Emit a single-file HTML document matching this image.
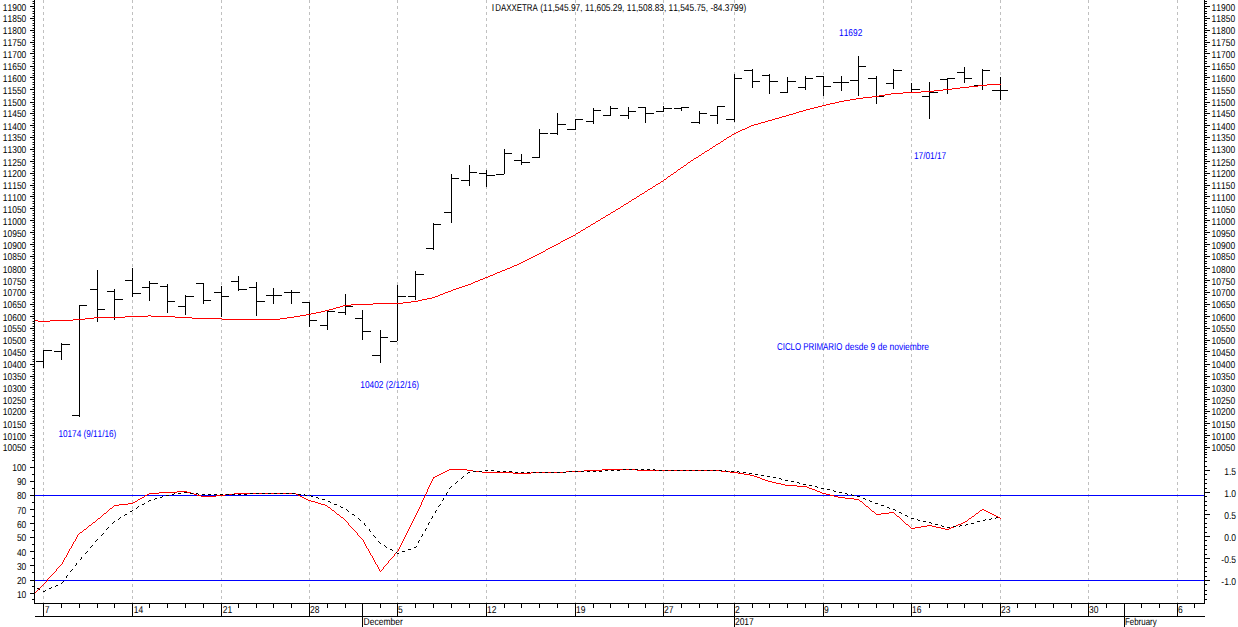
<!DOCTYPE html>
<html><head><meta charset="utf-8"><title>DAX chart</title>
<style>
html,body{margin:0;padding:0;background:#fff;}
body{width:1238px;height:627px;overflow:hidden;}
svg{display:block;}
text{text-rendering:geometricPrecision;font-kerning:none;font-family:"Liberation Sans",sans-serif;font-size:10px;}
</style></head><body>
<svg width="1238" height="627" viewBox="0 0 1238 627">
<rect x="0" y="0" width="1238" height="627" fill="#ffffff"/>
<g shape-rendering="crispEdges" stroke="#c0c0c0" stroke-width="1" stroke-dasharray="3,3">
<line x1="43.5" y1="0" x2="43.5" y2="458"/><line x1="43.5" y1="458" x2="43.5" y2="603"/>
<line x1="132.5" y1="0" x2="132.5" y2="458"/><line x1="132.5" y1="458" x2="132.5" y2="603"/>
<line x1="221.5" y1="0" x2="221.5" y2="458"/><line x1="221.5" y1="458" x2="221.5" y2="603"/>
<line x1="309.5" y1="0" x2="309.5" y2="458"/><line x1="309.5" y1="458" x2="309.5" y2="603"/>
<line x1="397.5" y1="0" x2="397.5" y2="458"/><line x1="397.5" y1="458" x2="397.5" y2="603"/>
<line x1="486.5" y1="0" x2="486.5" y2="458"/><line x1="486.5" y1="458" x2="486.5" y2="603"/>
<line x1="575.5" y1="0" x2="575.5" y2="458"/><line x1="575.5" y1="458" x2="575.5" y2="603"/>
<line x1="663.5" y1="0" x2="663.5" y2="458"/><line x1="663.5" y1="458" x2="663.5" y2="603"/>
<line x1="734.5" y1="0" x2="734.5" y2="458"/><line x1="734.5" y1="458" x2="734.5" y2="603"/>
<line x1="823.5" y1="0" x2="823.5" y2="458"/><line x1="823.5" y1="458" x2="823.5" y2="603"/>
<line x1="911.5" y1="0" x2="911.5" y2="458"/><line x1="911.5" y1="458" x2="911.5" y2="603"/>
<line x1="1000.5" y1="0" x2="1000.5" y2="458"/><line x1="1000.5" y1="458" x2="1000.5" y2="603"/>
<line x1="1088.5" y1="0" x2="1088.5" y2="458"/><line x1="1088.5" y1="458" x2="1088.5" y2="603"/>
<line x1="1177.5" y1="0" x2="1177.5" y2="458"/><line x1="1177.5" y1="458" x2="1177.5" y2="603"/>
</g>
<g shape-rendering="crispEdges" fill="#000">
<rect x="34" y="0" width="1" height="604"/>
<rect x="1204" y="0" width="1" height="604"/>
<rect x="34" y="603" width="1171" height="1"/>
<rect x="35" y="616" width="1170" height="1"/>
<rect x="33" y="1" width="1" height="1"/>
<rect x="1205" y="1" width="2" height="1"/>
<rect x="33" y="3" width="1" height="1"/>
<rect x="1205" y="3" width="2" height="1"/>
<rect x="30" y="6" width="4" height="1"/>
<rect x="1205" y="6" width="5" height="1"/>
<rect x="33" y="8" width="1" height="1"/>
<rect x="1205" y="8" width="2" height="1"/>
<rect x="33" y="11" width="1" height="1"/>
<rect x="1205" y="11" width="2" height="1"/>
<rect x="33" y="13" width="1" height="1"/>
<rect x="1205" y="13" width="2" height="1"/>
<rect x="33" y="16" width="1" height="1"/>
<rect x="1205" y="16" width="2" height="1"/>
<rect x="30" y="18" width="4" height="1"/>
<rect x="1205" y="18" width="5" height="1"/>
<rect x="33" y="20" width="1" height="1"/>
<rect x="1205" y="20" width="2" height="1"/>
<rect x="33" y="23" width="1" height="1"/>
<rect x="1205" y="23" width="2" height="1"/>
<rect x="33" y="25" width="1" height="1"/>
<rect x="1205" y="25" width="2" height="1"/>
<rect x="33" y="28" width="1" height="1"/>
<rect x="1205" y="28" width="2" height="1"/>
<rect x="30" y="30" width="4" height="1"/>
<rect x="1205" y="30" width="5" height="1"/>
<rect x="33" y="32" width="1" height="1"/>
<rect x="1205" y="32" width="2" height="1"/>
<rect x="33" y="35" width="1" height="1"/>
<rect x="1205" y="35" width="2" height="1"/>
<rect x="33" y="37" width="1" height="1"/>
<rect x="1205" y="37" width="2" height="1"/>
<rect x="33" y="40" width="1" height="1"/>
<rect x="1205" y="40" width="2" height="1"/>
<rect x="30" y="42" width="4" height="1"/>
<rect x="1205" y="42" width="5" height="1"/>
<rect x="33" y="44" width="1" height="1"/>
<rect x="1205" y="44" width="2" height="1"/>
<rect x="33" y="46" width="1" height="1"/>
<rect x="1205" y="46" width="2" height="1"/>
<rect x="33" y="49" width="1" height="1"/>
<rect x="1205" y="49" width="2" height="1"/>
<rect x="33" y="51" width="1" height="1"/>
<rect x="1205" y="51" width="2" height="1"/>
<rect x="30" y="53" width="4" height="1"/>
<rect x="1205" y="53" width="5" height="1"/>
<rect x="33" y="56" width="1" height="1"/>
<rect x="1205" y="56" width="2" height="1"/>
<rect x="33" y="58" width="1" height="1"/>
<rect x="1205" y="58" width="2" height="1"/>
<rect x="33" y="61" width="1" height="1"/>
<rect x="1205" y="61" width="2" height="1"/>
<rect x="33" y="63" width="1" height="1"/>
<rect x="1205" y="63" width="2" height="1"/>
<rect x="30" y="66" width="4" height="1"/>
<rect x="1205" y="66" width="5" height="1"/>
<rect x="33" y="68" width="1" height="1"/>
<rect x="1205" y="68" width="2" height="1"/>
<rect x="33" y="70" width="1" height="1"/>
<rect x="1205" y="70" width="2" height="1"/>
<rect x="33" y="73" width="1" height="1"/>
<rect x="1205" y="73" width="2" height="1"/>
<rect x="33" y="75" width="1" height="1"/>
<rect x="1205" y="75" width="2" height="1"/>
<rect x="30" y="77" width="4" height="1"/>
<rect x="1205" y="77" width="5" height="1"/>
<rect x="33" y="79" width="1" height="1"/>
<rect x="1205" y="79" width="2" height="1"/>
<rect x="33" y="82" width="1" height="1"/>
<rect x="1205" y="82" width="2" height="1"/>
<rect x="33" y="84" width="1" height="1"/>
<rect x="1205" y="84" width="2" height="1"/>
<rect x="33" y="87" width="1" height="1"/>
<rect x="1205" y="87" width="2" height="1"/>
<rect x="30" y="89" width="4" height="1"/>
<rect x="1205" y="89" width="5" height="1"/>
<rect x="33" y="92" width="1" height="1"/>
<rect x="1205" y="92" width="2" height="1"/>
<rect x="33" y="94" width="1" height="1"/>
<rect x="1205" y="94" width="2" height="1"/>
<rect x="33" y="97" width="1" height="1"/>
<rect x="1205" y="97" width="2" height="1"/>
<rect x="33" y="99" width="1" height="1"/>
<rect x="1205" y="99" width="2" height="1"/>
<rect x="30" y="102" width="4" height="1"/>
<rect x="1205" y="102" width="5" height="1"/>
<rect x="33" y="104" width="1" height="1"/>
<rect x="1205" y="104" width="2" height="1"/>
<rect x="33" y="106" width="1" height="1"/>
<rect x="1205" y="106" width="2" height="1"/>
<rect x="33" y="109" width="1" height="1"/>
<rect x="1205" y="109" width="2" height="1"/>
<rect x="33" y="111" width="1" height="1"/>
<rect x="1205" y="111" width="2" height="1"/>
<rect x="30" y="113" width="4" height="1"/>
<rect x="1205" y="113" width="5" height="1"/>
<rect x="33" y="115" width="1" height="1"/>
<rect x="1205" y="115" width="2" height="1"/>
<rect x="33" y="118" width="1" height="1"/>
<rect x="1205" y="118" width="2" height="1"/>
<rect x="33" y="120" width="1" height="1"/>
<rect x="1205" y="120" width="2" height="1"/>
<rect x="33" y="123" width="1" height="1"/>
<rect x="1205" y="123" width="2" height="1"/>
<rect x="30" y="125" width="4" height="1"/>
<rect x="1205" y="125" width="5" height="1"/>
<rect x="33" y="127" width="1" height="1"/>
<rect x="1205" y="127" width="2" height="1"/>
<rect x="33" y="130" width="1" height="1"/>
<rect x="1205" y="130" width="2" height="1"/>
<rect x="33" y="132" width="1" height="1"/>
<rect x="1205" y="132" width="2" height="1"/>
<rect x="33" y="135" width="1" height="1"/>
<rect x="1205" y="135" width="2" height="1"/>
<rect x="30" y="137" width="4" height="1"/>
<rect x="1205" y="137" width="5" height="1"/>
<rect x="33" y="139" width="1" height="1"/>
<rect x="1205" y="139" width="2" height="1"/>
<rect x="33" y="142" width="1" height="1"/>
<rect x="1205" y="142" width="2" height="1"/>
<rect x="33" y="144" width="1" height="1"/>
<rect x="1205" y="144" width="2" height="1"/>
<rect x="33" y="147" width="1" height="1"/>
<rect x="1205" y="147" width="2" height="1"/>
<rect x="30" y="149" width="4" height="1"/>
<rect x="1205" y="149" width="5" height="1"/>
<rect x="33" y="151" width="1" height="1"/>
<rect x="1205" y="151" width="2" height="1"/>
<rect x="33" y="154" width="1" height="1"/>
<rect x="1205" y="154" width="2" height="1"/>
<rect x="33" y="156" width="1" height="1"/>
<rect x="1205" y="156" width="2" height="1"/>
<rect x="33" y="159" width="1" height="1"/>
<rect x="1205" y="159" width="2" height="1"/>
<rect x="30" y="161" width="4" height="1"/>
<rect x="1205" y="161" width="5" height="1"/>
<rect x="33" y="163" width="1" height="1"/>
<rect x="1205" y="163" width="2" height="1"/>
<rect x="33" y="166" width="1" height="1"/>
<rect x="1205" y="166" width="2" height="1"/>
<rect x="33" y="168" width="1" height="1"/>
<rect x="1205" y="168" width="2" height="1"/>
<rect x="33" y="171" width="1" height="1"/>
<rect x="1205" y="171" width="2" height="1"/>
<rect x="30" y="173" width="4" height="1"/>
<rect x="1205" y="173" width="5" height="1"/>
<rect x="33" y="175" width="1" height="1"/>
<rect x="1205" y="175" width="2" height="1"/>
<rect x="33" y="178" width="1" height="1"/>
<rect x="1205" y="178" width="2" height="1"/>
<rect x="33" y="180" width="1" height="1"/>
<rect x="1205" y="180" width="2" height="1"/>
<rect x="33" y="183" width="1" height="1"/>
<rect x="1205" y="183" width="2" height="1"/>
<rect x="30" y="185" width="4" height="1"/>
<rect x="1205" y="185" width="5" height="1"/>
<rect x="33" y="187" width="1" height="1"/>
<rect x="1205" y="187" width="2" height="1"/>
<rect x="33" y="189" width="1" height="1"/>
<rect x="1205" y="189" width="2" height="1"/>
<rect x="33" y="192" width="1" height="1"/>
<rect x="1205" y="192" width="2" height="1"/>
<rect x="33" y="194" width="1" height="1"/>
<rect x="1205" y="194" width="2" height="1"/>
<rect x="30" y="196" width="4" height="1"/>
<rect x="1205" y="196" width="5" height="1"/>
<rect x="33" y="198" width="1" height="1"/>
<rect x="1205" y="198" width="2" height="1"/>
<rect x="33" y="201" width="1" height="1"/>
<rect x="1205" y="201" width="2" height="1"/>
<rect x="33" y="203" width="1" height="1"/>
<rect x="1205" y="203" width="2" height="1"/>
<rect x="33" y="206" width="1" height="1"/>
<rect x="1205" y="206" width="2" height="1"/>
<rect x="30" y="208" width="4" height="1"/>
<rect x="1205" y="208" width="5" height="1"/>
<rect x="33" y="210" width="1" height="1"/>
<rect x="1205" y="210" width="2" height="1"/>
<rect x="33" y="213" width="1" height="1"/>
<rect x="1205" y="213" width="2" height="1"/>
<rect x="33" y="215" width="1" height="1"/>
<rect x="1205" y="215" width="2" height="1"/>
<rect x="33" y="218" width="1" height="1"/>
<rect x="1205" y="218" width="2" height="1"/>
<rect x="30" y="220" width="4" height="1"/>
<rect x="1205" y="220" width="5" height="1"/>
<rect x="33" y="222" width="1" height="1"/>
<rect x="1205" y="222" width="2" height="1"/>
<rect x="33" y="225" width="1" height="1"/>
<rect x="1205" y="225" width="2" height="1"/>
<rect x="33" y="227" width="1" height="1"/>
<rect x="1205" y="227" width="2" height="1"/>
<rect x="33" y="230" width="1" height="1"/>
<rect x="1205" y="230" width="2" height="1"/>
<rect x="30" y="232" width="4" height="1"/>
<rect x="1205" y="232" width="5" height="1"/>
<rect x="33" y="234" width="1" height="1"/>
<rect x="1205" y="234" width="2" height="1"/>
<rect x="33" y="237" width="1" height="1"/>
<rect x="1205" y="237" width="2" height="1"/>
<rect x="33" y="239" width="1" height="1"/>
<rect x="1205" y="239" width="2" height="1"/>
<rect x="33" y="242" width="1" height="1"/>
<rect x="1205" y="242" width="2" height="1"/>
<rect x="30" y="244" width="4" height="1"/>
<rect x="1205" y="244" width="5" height="1"/>
<rect x="33" y="246" width="1" height="1"/>
<rect x="1205" y="246" width="2" height="1"/>
<rect x="33" y="249" width="1" height="1"/>
<rect x="1205" y="249" width="2" height="1"/>
<rect x="33" y="251" width="1" height="1"/>
<rect x="1205" y="251" width="2" height="1"/>
<rect x="33" y="254" width="1" height="1"/>
<rect x="1205" y="254" width="2" height="1"/>
<rect x="30" y="256" width="4" height="1"/>
<rect x="1205" y="256" width="5" height="1"/>
<rect x="33" y="258" width="1" height="1"/>
<rect x="1205" y="258" width="2" height="1"/>
<rect x="33" y="261" width="1" height="1"/>
<rect x="1205" y="261" width="2" height="1"/>
<rect x="33" y="263" width="1" height="1"/>
<rect x="1205" y="263" width="2" height="1"/>
<rect x="33" y="266" width="1" height="1"/>
<rect x="1205" y="266" width="2" height="1"/>
<rect x="30" y="268" width="4" height="1"/>
<rect x="1205" y="268" width="5" height="1"/>
<rect x="33" y="270" width="1" height="1"/>
<rect x="1205" y="270" width="2" height="1"/>
<rect x="33" y="273" width="1" height="1"/>
<rect x="1205" y="273" width="2" height="1"/>
<rect x="33" y="275" width="1" height="1"/>
<rect x="1205" y="275" width="2" height="1"/>
<rect x="33" y="278" width="1" height="1"/>
<rect x="1205" y="278" width="2" height="1"/>
<rect x="30" y="280" width="4" height="1"/>
<rect x="1205" y="280" width="5" height="1"/>
<rect x="33" y="282" width="1" height="1"/>
<rect x="1205" y="282" width="2" height="1"/>
<rect x="33" y="285" width="1" height="1"/>
<rect x="1205" y="285" width="2" height="1"/>
<rect x="33" y="287" width="1" height="1"/>
<rect x="1205" y="287" width="2" height="1"/>
<rect x="33" y="290" width="1" height="1"/>
<rect x="1205" y="290" width="2" height="1"/>
<rect x="30" y="292" width="4" height="1"/>
<rect x="1205" y="292" width="5" height="1"/>
<rect x="33" y="294" width="1" height="1"/>
<rect x="1205" y="294" width="2" height="1"/>
<rect x="33" y="297" width="1" height="1"/>
<rect x="1205" y="297" width="2" height="1"/>
<rect x="33" y="299" width="1" height="1"/>
<rect x="1205" y="299" width="2" height="1"/>
<rect x="33" y="302" width="1" height="1"/>
<rect x="1205" y="302" width="2" height="1"/>
<rect x="30" y="304" width="4" height="1"/>
<rect x="1205" y="304" width="5" height="1"/>
<rect x="33" y="306" width="1" height="1"/>
<rect x="1205" y="306" width="2" height="1"/>
<rect x="33" y="309" width="1" height="1"/>
<rect x="1205" y="309" width="2" height="1"/>
<rect x="33" y="311" width="1" height="1"/>
<rect x="1205" y="311" width="2" height="1"/>
<rect x="33" y="314" width="1" height="1"/>
<rect x="1205" y="314" width="2" height="1"/>
<rect x="30" y="316" width="4" height="1"/>
<rect x="1205" y="316" width="5" height="1"/>
<rect x="33" y="318" width="1" height="1"/>
<rect x="1205" y="318" width="2" height="1"/>
<rect x="33" y="321" width="1" height="1"/>
<rect x="1205" y="321" width="2" height="1"/>
<rect x="33" y="323" width="1" height="1"/>
<rect x="1205" y="323" width="2" height="1"/>
<rect x="33" y="326" width="1" height="1"/>
<rect x="1205" y="326" width="2" height="1"/>
<rect x="30" y="328" width="4" height="1"/>
<rect x="1205" y="328" width="5" height="1"/>
<rect x="33" y="330" width="1" height="1"/>
<rect x="1205" y="330" width="2" height="1"/>
<rect x="33" y="333" width="1" height="1"/>
<rect x="1205" y="333" width="2" height="1"/>
<rect x="33" y="335" width="1" height="1"/>
<rect x="1205" y="335" width="2" height="1"/>
<rect x="33" y="338" width="1" height="1"/>
<rect x="1205" y="338" width="2" height="1"/>
<rect x="30" y="340" width="4" height="1"/>
<rect x="1205" y="340" width="5" height="1"/>
<rect x="33" y="342" width="1" height="1"/>
<rect x="1205" y="342" width="2" height="1"/>
<rect x="33" y="344" width="1" height="1"/>
<rect x="1205" y="344" width="2" height="1"/>
<rect x="33" y="347" width="1" height="1"/>
<rect x="1205" y="347" width="2" height="1"/>
<rect x="33" y="349" width="1" height="1"/>
<rect x="1205" y="349" width="2" height="1"/>
<rect x="30" y="351" width="4" height="1"/>
<rect x="1205" y="351" width="5" height="1"/>
<rect x="33" y="354" width="1" height="1"/>
<rect x="1205" y="354" width="2" height="1"/>
<rect x="33" y="356" width="1" height="1"/>
<rect x="1205" y="356" width="2" height="1"/>
<rect x="33" y="359" width="1" height="1"/>
<rect x="1205" y="359" width="2" height="1"/>
<rect x="33" y="361" width="1" height="1"/>
<rect x="1205" y="361" width="2" height="1"/>
<rect x="30" y="364" width="4" height="1"/>
<rect x="1205" y="364" width="5" height="1"/>
<rect x="33" y="366" width="1" height="1"/>
<rect x="1205" y="366" width="2" height="1"/>
<rect x="33" y="369" width="1" height="1"/>
<rect x="1205" y="369" width="2" height="1"/>
<rect x="33" y="371" width="1" height="1"/>
<rect x="1205" y="371" width="2" height="1"/>
<rect x="33" y="374" width="1" height="1"/>
<rect x="1205" y="374" width="2" height="1"/>
<rect x="30" y="376" width="4" height="1"/>
<rect x="1205" y="376" width="5" height="1"/>
<rect x="33" y="378" width="1" height="1"/>
<rect x="1205" y="378" width="2" height="1"/>
<rect x="33" y="380" width="1" height="1"/>
<rect x="1205" y="380" width="2" height="1"/>
<rect x="33" y="383" width="1" height="1"/>
<rect x="1205" y="383" width="2" height="1"/>
<rect x="33" y="385" width="1" height="1"/>
<rect x="1205" y="385" width="2" height="1"/>
<rect x="30" y="387" width="4" height="1"/>
<rect x="1205" y="387" width="5" height="1"/>
<rect x="33" y="389" width="1" height="1"/>
<rect x="1205" y="389" width="2" height="1"/>
<rect x="33" y="392" width="1" height="1"/>
<rect x="1205" y="392" width="2" height="1"/>
<rect x="33" y="394" width="1" height="1"/>
<rect x="1205" y="394" width="2" height="1"/>
<rect x="33" y="397" width="1" height="1"/>
<rect x="1205" y="397" width="2" height="1"/>
<rect x="30" y="399" width="4" height="1"/>
<rect x="1205" y="399" width="5" height="1"/>
<rect x="33" y="401" width="1" height="1"/>
<rect x="1205" y="401" width="2" height="1"/>
<rect x="33" y="404" width="1" height="1"/>
<rect x="1205" y="404" width="2" height="1"/>
<rect x="33" y="406" width="1" height="1"/>
<rect x="1205" y="406" width="2" height="1"/>
<rect x="33" y="409" width="1" height="1"/>
<rect x="1205" y="409" width="2" height="1"/>
<rect x="30" y="411" width="4" height="1"/>
<rect x="1205" y="411" width="5" height="1"/>
<rect x="33" y="413" width="1" height="1"/>
<rect x="1205" y="413" width="2" height="1"/>
<rect x="33" y="416" width="1" height="1"/>
<rect x="1205" y="416" width="2" height="1"/>
<rect x="33" y="418" width="1" height="1"/>
<rect x="1205" y="418" width="2" height="1"/>
<rect x="33" y="421" width="1" height="1"/>
<rect x="1205" y="421" width="2" height="1"/>
<rect x="30" y="423" width="4" height="1"/>
<rect x="1205" y="423" width="5" height="1"/>
<rect x="33" y="425" width="1" height="1"/>
<rect x="1205" y="425" width="2" height="1"/>
<rect x="33" y="428" width="1" height="1"/>
<rect x="1205" y="428" width="2" height="1"/>
<rect x="33" y="430" width="1" height="1"/>
<rect x="1205" y="430" width="2" height="1"/>
<rect x="33" y="433" width="1" height="1"/>
<rect x="1205" y="433" width="2" height="1"/>
<rect x="30" y="435" width="4" height="1"/>
<rect x="1205" y="435" width="5" height="1"/>
<rect x="33" y="437" width="1" height="1"/>
<rect x="1205" y="437" width="2" height="1"/>
<rect x="33" y="440" width="1" height="1"/>
<rect x="1205" y="440" width="2" height="1"/>
<rect x="33" y="442" width="1" height="1"/>
<rect x="1205" y="442" width="2" height="1"/>
<rect x="33" y="445" width="1" height="1"/>
<rect x="1205" y="445" width="2" height="1"/>
<rect x="30" y="447" width="4" height="1"/>
<rect x="1205" y="447" width="5" height="1"/>
<rect x="33" y="449" width="1" height="1"/>
<rect x="1205" y="449" width="2" height="1"/>
<rect x="33" y="452" width="1" height="1"/>
<rect x="1205" y="452" width="2" height="1"/>
<rect x="33" y="454" width="1" height="1"/>
<rect x="1205" y="454" width="2" height="1"/>
<rect x="33" y="457" width="1" height="1"/>
<rect x="1205" y="457" width="2" height="1"/>
<rect x="30" y="467" width="4" height="1"/>
<rect x="30" y="481" width="4" height="1"/>
<rect x="30" y="495" width="4" height="1"/>
<rect x="30" y="509" width="4" height="1"/>
<rect x="30" y="523" width="4" height="1"/>
<rect x="30" y="537" width="4" height="1"/>
<rect x="30" y="551" width="4" height="1"/>
<rect x="30" y="565" width="4" height="1"/>
<rect x="30" y="580" width="4" height="1"/>
<rect x="30" y="593" width="4" height="1"/>
<rect x="32" y="460" width="2" height="1"/>
<rect x="32" y="474" width="2" height="1"/>
<rect x="32" y="488" width="2" height="1"/>
<rect x="32" y="502" width="2" height="1"/>
<rect x="32" y="516" width="2" height="1"/>
<rect x="32" y="530" width="2" height="1"/>
<rect x="32" y="544" width="2" height="1"/>
<rect x="32" y="558" width="2" height="1"/>
<rect x="32" y="572" width="2" height="1"/>
<rect x="32" y="586" width="2" height="1"/>
<rect x="32" y="599" width="2" height="1"/>
<rect x="1205" y="461" width="2" height="1"/>
<rect x="1205" y="466" width="2" height="1"/>
<rect x="1205" y="470" width="5" height="1"/>
<rect x="1205" y="474" width="2" height="1"/>
<rect x="1205" y="479" width="2" height="1"/>
<rect x="1205" y="483" width="2" height="1"/>
<rect x="1205" y="488" width="2" height="1"/>
<rect x="1205" y="492" width="5" height="1"/>
<rect x="1205" y="496" width="2" height="1"/>
<rect x="1205" y="501" width="2" height="1"/>
<rect x="1205" y="505" width="2" height="1"/>
<rect x="1205" y="510" width="2" height="1"/>
<rect x="1205" y="514" width="5" height="1"/>
<rect x="1205" y="518" width="2" height="1"/>
<rect x="1205" y="523" width="2" height="1"/>
<rect x="1205" y="527" width="2" height="1"/>
<rect x="1205" y="532" width="2" height="1"/>
<rect x="1205" y="536" width="5" height="1"/>
<rect x="1205" y="540" width="2" height="1"/>
<rect x="1205" y="545" width="2" height="1"/>
<rect x="1205" y="549" width="2" height="1"/>
<rect x="1205" y="554" width="2" height="1"/>
<rect x="1205" y="558" width="5" height="1"/>
<rect x="1205" y="562" width="2" height="1"/>
<rect x="1205" y="567" width="2" height="1"/>
<rect x="1205" y="571" width="2" height="1"/>
<rect x="1205" y="576" width="2" height="1"/>
<rect x="1205" y="580" width="5" height="1"/>
<rect x="1205" y="584" width="2" height="1"/>
<rect x="1205" y="590" width="2" height="1"/>
<rect x="1205" y="594" width="2" height="1"/>
<rect x="1205" y="599" width="2" height="1"/>
<rect x="43" y="603" width="1" height="14"/>
<rect x="61" y="603" width="1" height="5"/>
<rect x="79" y="603" width="1" height="5"/>
<rect x="97" y="603" width="1" height="5"/>
<rect x="114" y="603" width="1" height="5"/>
<rect x="132" y="603" width="1" height="14"/>
<rect x="149" y="603" width="1" height="5"/>
<rect x="167" y="603" width="1" height="5"/>
<rect x="185" y="603" width="1" height="5"/>
<rect x="203" y="603" width="1" height="5"/>
<rect x="221" y="603" width="1" height="14"/>
<rect x="238" y="603" width="1" height="5"/>
<rect x="256" y="603" width="1" height="5"/>
<rect x="273" y="603" width="1" height="5"/>
<rect x="291" y="603" width="1" height="5"/>
<rect x="309" y="603" width="1" height="14"/>
<rect x="327" y="603" width="1" height="5"/>
<rect x="345" y="603" width="1" height="5"/>
<rect x="362" y="603" width="1" height="24"/>
<rect x="380" y="603" width="1" height="5"/>
<rect x="397" y="603" width="1" height="14"/>
<rect x="415" y="603" width="1" height="5"/>
<rect x="433" y="603" width="1" height="5"/>
<rect x="451" y="603" width="1" height="5"/>
<rect x="469" y="603" width="1" height="5"/>
<rect x="486" y="603" width="1" height="14"/>
<rect x="504" y="603" width="1" height="5"/>
<rect x="521" y="603" width="1" height="5"/>
<rect x="539" y="603" width="1" height="5"/>
<rect x="557" y="603" width="1" height="5"/>
<rect x="575" y="603" width="1" height="14"/>
<rect x="593" y="603" width="1" height="5"/>
<rect x="610" y="603" width="1" height="5"/>
<rect x="628" y="603" width="1" height="5"/>
<rect x="645" y="603" width="1" height="5"/>
<rect x="663" y="603" width="1" height="14"/>
<rect x="681" y="603" width="1" height="5"/>
<rect x="699" y="603" width="1" height="5"/>
<rect x="717" y="603" width="1" height="5"/>
<rect x="734" y="603" width="1" height="14"/>
<rect x="752" y="603" width="1" height="5"/>
<rect x="769" y="603" width="1" height="5"/>
<rect x="787" y="603" width="1" height="5"/>
<rect x="805" y="603" width="1" height="5"/>
<rect x="823" y="603" width="1" height="14"/>
<rect x="841" y="603" width="1" height="5"/>
<rect x="858" y="603" width="1" height="5"/>
<rect x="876" y="603" width="1" height="5"/>
<rect x="893" y="603" width="1" height="5"/>
<rect x="911" y="603" width="1" height="14"/>
<rect x="929" y="603" width="1" height="5"/>
<rect x="947" y="603" width="1" height="5"/>
<rect x="964" y="603" width="1" height="5"/>
<rect x="982" y="603" width="1" height="5"/>
<rect x="1000" y="603" width="1" height="14"/>
<rect x="1017" y="603" width="1" height="5"/>
<rect x="1035" y="603" width="1" height="5"/>
<rect x="1053" y="603" width="1" height="5"/>
<rect x="1071" y="603" width="1" height="5"/>
<rect x="1088" y="603" width="1" height="14"/>
<rect x="1106" y="603" width="1" height="5"/>
<rect x="1124" y="603" width="1" height="24"/>
<rect x="1141" y="603" width="1" height="5"/>
<rect x="1159" y="603" width="1" height="5"/>
<rect x="1177" y="603" width="1" height="14"/>
<rect x="1194" y="603" width="1" height="5"/>
<rect x="362" y="603" width="1" height="24"/>
<rect x="734" y="603" width="1" height="24"/>
<rect x="1124" y="603" width="1" height="24"/>
</g>
<g shape-rendering="crispEdges" fill="#8c8c8c">
<rect x="32" y="1" width="1" height="1"/>
<rect x="32" y="3" width="1" height="1"/>
<rect x="32" y="8" width="1" height="1"/>
<rect x="32" y="11" width="1" height="1"/>
<rect x="32" y="13" width="1" height="1"/>
<rect x="32" y="16" width="1" height="1"/>
<rect x="32" y="20" width="1" height="1"/>
<rect x="32" y="23" width="1" height="1"/>
<rect x="32" y="25" width="1" height="1"/>
<rect x="32" y="28" width="1" height="1"/>
<rect x="32" y="32" width="1" height="1"/>
<rect x="32" y="35" width="1" height="1"/>
<rect x="32" y="37" width="1" height="1"/>
<rect x="32" y="40" width="1" height="1"/>
<rect x="32" y="44" width="1" height="1"/>
<rect x="32" y="46" width="1" height="1"/>
<rect x="32" y="49" width="1" height="1"/>
<rect x="32" y="51" width="1" height="1"/>
<rect x="32" y="56" width="1" height="1"/>
<rect x="32" y="58" width="1" height="1"/>
<rect x="32" y="61" width="1" height="1"/>
<rect x="32" y="63" width="1" height="1"/>
<rect x="32" y="68" width="1" height="1"/>
<rect x="32" y="70" width="1" height="1"/>
<rect x="32" y="73" width="1" height="1"/>
<rect x="32" y="75" width="1" height="1"/>
<rect x="32" y="79" width="1" height="1"/>
<rect x="32" y="82" width="1" height="1"/>
<rect x="32" y="84" width="1" height="1"/>
<rect x="32" y="87" width="1" height="1"/>
<rect x="32" y="92" width="1" height="1"/>
<rect x="32" y="94" width="1" height="1"/>
<rect x="32" y="97" width="1" height="1"/>
<rect x="32" y="99" width="1" height="1"/>
<rect x="32" y="104" width="1" height="1"/>
<rect x="32" y="106" width="1" height="1"/>
<rect x="32" y="109" width="1" height="1"/>
<rect x="32" y="111" width="1" height="1"/>
<rect x="32" y="115" width="1" height="1"/>
<rect x="32" y="118" width="1" height="1"/>
<rect x="32" y="120" width="1" height="1"/>
<rect x="32" y="123" width="1" height="1"/>
<rect x="32" y="127" width="1" height="1"/>
<rect x="32" y="130" width="1" height="1"/>
<rect x="32" y="132" width="1" height="1"/>
<rect x="32" y="135" width="1" height="1"/>
<rect x="32" y="139" width="1" height="1"/>
<rect x="32" y="142" width="1" height="1"/>
<rect x="32" y="144" width="1" height="1"/>
<rect x="32" y="147" width="1" height="1"/>
<rect x="32" y="151" width="1" height="1"/>
<rect x="32" y="154" width="1" height="1"/>
<rect x="32" y="156" width="1" height="1"/>
<rect x="32" y="159" width="1" height="1"/>
<rect x="32" y="163" width="1" height="1"/>
<rect x="32" y="166" width="1" height="1"/>
<rect x="32" y="168" width="1" height="1"/>
<rect x="32" y="171" width="1" height="1"/>
<rect x="32" y="175" width="1" height="1"/>
<rect x="32" y="178" width="1" height="1"/>
<rect x="32" y="180" width="1" height="1"/>
<rect x="32" y="183" width="1" height="1"/>
<rect x="32" y="187" width="1" height="1"/>
<rect x="32" y="189" width="1" height="1"/>
<rect x="32" y="192" width="1" height="1"/>
<rect x="32" y="194" width="1" height="1"/>
<rect x="32" y="198" width="1" height="1"/>
<rect x="32" y="201" width="1" height="1"/>
<rect x="32" y="203" width="1" height="1"/>
<rect x="32" y="206" width="1" height="1"/>
<rect x="32" y="210" width="1" height="1"/>
<rect x="32" y="213" width="1" height="1"/>
<rect x="32" y="215" width="1" height="1"/>
<rect x="32" y="218" width="1" height="1"/>
<rect x="32" y="222" width="1" height="1"/>
<rect x="32" y="225" width="1" height="1"/>
<rect x="32" y="227" width="1" height="1"/>
<rect x="32" y="230" width="1" height="1"/>
<rect x="32" y="234" width="1" height="1"/>
<rect x="32" y="237" width="1" height="1"/>
<rect x="32" y="239" width="1" height="1"/>
<rect x="32" y="242" width="1" height="1"/>
<rect x="32" y="246" width="1" height="1"/>
<rect x="32" y="249" width="1" height="1"/>
<rect x="32" y="251" width="1" height="1"/>
<rect x="32" y="254" width="1" height="1"/>
<rect x="32" y="258" width="1" height="1"/>
<rect x="32" y="261" width="1" height="1"/>
<rect x="32" y="263" width="1" height="1"/>
<rect x="32" y="266" width="1" height="1"/>
<rect x="32" y="270" width="1" height="1"/>
<rect x="32" y="273" width="1" height="1"/>
<rect x="32" y="275" width="1" height="1"/>
<rect x="32" y="278" width="1" height="1"/>
<rect x="32" y="282" width="1" height="1"/>
<rect x="32" y="285" width="1" height="1"/>
<rect x="32" y="287" width="1" height="1"/>
<rect x="32" y="290" width="1" height="1"/>
<rect x="32" y="294" width="1" height="1"/>
<rect x="32" y="297" width="1" height="1"/>
<rect x="32" y="299" width="1" height="1"/>
<rect x="32" y="302" width="1" height="1"/>
<rect x="32" y="306" width="1" height="1"/>
<rect x="32" y="309" width="1" height="1"/>
<rect x="32" y="311" width="1" height="1"/>
<rect x="32" y="314" width="1" height="1"/>
<rect x="32" y="318" width="1" height="1"/>
<rect x="32" y="321" width="1" height="1"/>
<rect x="32" y="323" width="1" height="1"/>
<rect x="32" y="326" width="1" height="1"/>
<rect x="32" y="330" width="1" height="1"/>
<rect x="32" y="333" width="1" height="1"/>
<rect x="32" y="335" width="1" height="1"/>
<rect x="32" y="338" width="1" height="1"/>
<rect x="32" y="342" width="1" height="1"/>
<rect x="32" y="344" width="1" height="1"/>
<rect x="32" y="347" width="1" height="1"/>
<rect x="32" y="349" width="1" height="1"/>
<rect x="32" y="354" width="1" height="1"/>
<rect x="32" y="356" width="1" height="1"/>
<rect x="32" y="359" width="1" height="1"/>
<rect x="32" y="361" width="1" height="1"/>
<rect x="32" y="366" width="1" height="1"/>
<rect x="32" y="369" width="1" height="1"/>
<rect x="32" y="371" width="1" height="1"/>
<rect x="32" y="374" width="1" height="1"/>
<rect x="32" y="378" width="1" height="1"/>
<rect x="32" y="380" width="1" height="1"/>
<rect x="32" y="383" width="1" height="1"/>
<rect x="32" y="385" width="1" height="1"/>
<rect x="32" y="389" width="1" height="1"/>
<rect x="32" y="392" width="1" height="1"/>
<rect x="32" y="394" width="1" height="1"/>
<rect x="32" y="397" width="1" height="1"/>
<rect x="32" y="401" width="1" height="1"/>
<rect x="32" y="404" width="1" height="1"/>
<rect x="32" y="406" width="1" height="1"/>
<rect x="32" y="409" width="1" height="1"/>
<rect x="32" y="413" width="1" height="1"/>
<rect x="32" y="416" width="1" height="1"/>
<rect x="32" y="418" width="1" height="1"/>
<rect x="32" y="421" width="1" height="1"/>
<rect x="32" y="425" width="1" height="1"/>
<rect x="32" y="428" width="1" height="1"/>
<rect x="32" y="430" width="1" height="1"/>
<rect x="32" y="433" width="1" height="1"/>
<rect x="32" y="437" width="1" height="1"/>
<rect x="32" y="440" width="1" height="1"/>
<rect x="32" y="442" width="1" height="1"/>
<rect x="32" y="445" width="1" height="1"/>
<rect x="32" y="449" width="1" height="1"/>
<rect x="32" y="452" width="1" height="1"/>
<rect x="32" y="454" width="1" height="1"/>
<rect x="32" y="457" width="1" height="1"/>
</g>
<g shape-rendering="crispEdges" fill="#000">
<rect x="43" y="350" width="1" height="18"/>
<rect x="36" y="361" width="7" height="1"/>
<rect x="44" y="350" width="8" height="1"/>
<rect x="61" y="343" width="1" height="17"/>
<rect x="54" y="351" width="7" height="1"/>
<rect x="62" y="344" width="8" height="1"/>
<rect x="79" y="305" width="1" height="112"/>
<rect x="72" y="415" width="7" height="1"/>
<rect x="80" y="305" width="7" height="1"/>
<rect x="97" y="270" width="1" height="52"/>
<rect x="90" y="289" width="7" height="1"/>
<rect x="98" y="309" width="7" height="1"/>
<rect x="114" y="289" width="1" height="31"/>
<rect x="107" y="291" width="7" height="1"/>
<rect x="115" y="299" width="8" height="1"/>
<rect x="132" y="268" width="1" height="29"/>
<rect x="125" y="280" width="7" height="1"/>
<rect x="133" y="293" width="8" height="1"/>
<rect x="149" y="281" width="1" height="20"/>
<rect x="142" y="287" width="7" height="1"/>
<rect x="150" y="283" width="8" height="1"/>
<rect x="167" y="284" width="1" height="29"/>
<rect x="160" y="286" width="7" height="1"/>
<rect x="168" y="301" width="7" height="1"/>
<rect x="185" y="295" width="1" height="20"/>
<rect x="178" y="306" width="7" height="1"/>
<rect x="186" y="296" width="8" height="1"/>
<rect x="203" y="283" width="1" height="21"/>
<rect x="196" y="283" width="7" height="1"/>
<rect x="204" y="300" width="7" height="1"/>
<rect x="221" y="286" width="1" height="31"/>
<rect x="214" y="292" width="7" height="1"/>
<rect x="222" y="296" width="7" height="1"/>
<rect x="238" y="276" width="1" height="15"/>
<rect x="231" y="281" width="7" height="1"/>
<rect x="239" y="289" width="8" height="1"/>
<rect x="256" y="282" width="1" height="34"/>
<rect x="249" y="287" width="7" height="1"/>
<rect x="257" y="301" width="8" height="1"/>
<rect x="273" y="288" width="1" height="16"/>
<rect x="266" y="295" width="7" height="1"/>
<rect x="274" y="295" width="8" height="1"/>
<rect x="291" y="290" width="1" height="14"/>
<rect x="284" y="292" width="7" height="1"/>
<rect x="292" y="292" width="8" height="1"/>
<rect x="309" y="302" width="1" height="25"/>
<rect x="302" y="302" width="7" height="1"/>
<rect x="310" y="320" width="7" height="1"/>
<rect x="327" y="311" width="1" height="19"/>
<rect x="320" y="325" width="7" height="1"/>
<rect x="328" y="311" width="7" height="1"/>
<rect x="345" y="294" width="1" height="21"/>
<rect x="338" y="312" width="7" height="1"/>
<rect x="346" y="306" width="7" height="1"/>
<rect x="362" y="310" width="1" height="30"/>
<rect x="355" y="318" width="7" height="1"/>
<rect x="363" y="331" width="8" height="1"/>
<rect x="380" y="330" width="1" height="33"/>
<rect x="372" y="355" width="8" height="1"/>
<rect x="381" y="337" width="7" height="1"/>
<rect x="397" y="285" width="1" height="56"/>
<rect x="390" y="341" width="7" height="1"/>
<rect x="398" y="296" width="8" height="1"/>
<rect x="415" y="271" width="1" height="29"/>
<rect x="408" y="296" width="7" height="1"/>
<rect x="416" y="274" width="8" height="1"/>
<rect x="433" y="223" width="1" height="27"/>
<rect x="426" y="248" width="7" height="1"/>
<rect x="434" y="224" width="7" height="1"/>
<rect x="451" y="174" width="1" height="49"/>
<rect x="444" y="212" width="7" height="1"/>
<rect x="452" y="178" width="7" height="1"/>
<rect x="469" y="165" width="1" height="21"/>
<rect x="461" y="180" width="8" height="1"/>
<rect x="470" y="172" width="7" height="1"/>
<rect x="486" y="170" width="1" height="17"/>
<rect x="479" y="173" width="7" height="1"/>
<rect x="487" y="175" width="8" height="1"/>
<rect x="504" y="149" width="1" height="25"/>
<rect x="496" y="174" width="8" height="1"/>
<rect x="505" y="153" width="7" height="1"/>
<rect x="521" y="154" width="1" height="11"/>
<rect x="514" y="160" width="7" height="1"/>
<rect x="522" y="162" width="8" height="1"/>
<rect x="539" y="129" width="1" height="29"/>
<rect x="532" y="157" width="7" height="1"/>
<rect x="540" y="133" width="8" height="1"/>
<rect x="557" y="113" width="1" height="22"/>
<rect x="550" y="133" width="7" height="1"/>
<rect x="558" y="124" width="8" height="1"/>
<rect x="575" y="119" width="1" height="11"/>
<rect x="567" y="129" width="8" height="1"/>
<rect x="576" y="119" width="7" height="1"/>
<rect x="593" y="108" width="1" height="16"/>
<rect x="586" y="121" width="7" height="1"/>
<rect x="594" y="110" width="7" height="1"/>
<rect x="610" y="106" width="1" height="10"/>
<rect x="603" y="115" width="7" height="1"/>
<rect x="611" y="108" width="7" height="1"/>
<rect x="628" y="107" width="1" height="12"/>
<rect x="620" y="115" width="8" height="1"/>
<rect x="629" y="111" width="7" height="1"/>
<rect x="645" y="107" width="1" height="16"/>
<rect x="638" y="107" width="7" height="1"/>
<rect x="646" y="113" width="8" height="1"/>
<rect x="663" y="106" width="1" height="6"/>
<rect x="656" y="111" width="7" height="1"/>
<rect x="664" y="108" width="8" height="1"/>
<rect x="681" y="107" width="1" height="4"/>
<rect x="674" y="108" width="7" height="1"/>
<rect x="682" y="107" width="7" height="1"/>
<rect x="699" y="111" width="1" height="13"/>
<rect x="691" y="122" width="8" height="1"/>
<rect x="700" y="113" width="7" height="1"/>
<rect x="717" y="106" width="1" height="18"/>
<rect x="710" y="115" width="7" height="1"/>
<rect x="718" y="106" width="7" height="1"/>
<rect x="734" y="74" width="1" height="48"/>
<rect x="726" y="119" width="8" height="1"/>
<rect x="735" y="78" width="7" height="1"/>
<rect x="752" y="69" width="1" height="19"/>
<rect x="744" y="70" width="8" height="1"/>
<rect x="753" y="81" width="7" height="1"/>
<rect x="769" y="74" width="1" height="20"/>
<rect x="762" y="75" width="7" height="1"/>
<rect x="770" y="81" width="8" height="1"/>
<rect x="787" y="77" width="1" height="16"/>
<rect x="780" y="92" width="7" height="1"/>
<rect x="788" y="81" width="8" height="1"/>
<rect x="805" y="76" width="1" height="14"/>
<rect x="798" y="87" width="7" height="1"/>
<rect x="806" y="78" width="7" height="1"/>
<rect x="823" y="76" width="1" height="20"/>
<rect x="816" y="76" width="7" height="1"/>
<rect x="824" y="86" width="7" height="1"/>
<rect x="841" y="76" width="1" height="15"/>
<rect x="833" y="82" width="8" height="1"/>
<rect x="842" y="82" width="7" height="1"/>
<rect x="858" y="56" width="1" height="40"/>
<rect x="850" y="80" width="8" height="1"/>
<rect x="859" y="66" width="7" height="1"/>
<rect x="876" y="76" width="1" height="28"/>
<rect x="868" y="78" width="8" height="1"/>
<rect x="877" y="96" width="7" height="1"/>
<rect x="893" y="69" width="1" height="20"/>
<rect x="886" y="83" width="7" height="1"/>
<rect x="894" y="70" width="8" height="1"/>
<rect x="911" y="83" width="1" height="9"/>
<rect x="904" y="92" width="7" height="1"/>
<rect x="912" y="89" width="8" height="1"/>
<rect x="929" y="82" width="1" height="37"/>
<rect x="922" y="96" width="7" height="1"/>
<rect x="930" y="92" width="8" height="1"/>
<rect x="947" y="78" width="1" height="16"/>
<rect x="940" y="79" width="7" height="1"/>
<rect x="948" y="78" width="7" height="1"/>
<rect x="964" y="67" width="1" height="16"/>
<rect x="957" y="72" width="7" height="1"/>
<rect x="965" y="78" width="7" height="1"/>
<rect x="982" y="69" width="1" height="21"/>
<rect x="974" y="85" width="8" height="1"/>
<rect x="983" y="70" width="7" height="1"/>
<rect x="1000" y="77" width="1" height="23"/>
<rect x="992" y="90" width="8" height="1"/>
<rect x="1001" y="90" width="7" height="1"/>
</g>
<g shape-rendering="crispEdges" fill="#0000ff">
<rect x="35" y="495" width="1169" height="1"/>
<rect x="35" y="580" width="1169" height="1"/>
</g>
<path shape-rendering="crispEdges" fill="none" stroke="#ff0000" stroke-width="1" transform="translate(0,0.5)" d="M987 84h14M978 85h9M969 86h9M960 87h9M952 88h8M943 89h9M934 90h9M921 91h13M903 92h18M891 93h12M885 94h6M879 95h6M872 96h7M863 97h9M856 98h7M850 99h6M844 100h6M839 101h5M835 102h4M830 103h5M826 104h4M822 105h4M818 106h4M814 107h4M810 108h4M806 109h4M803 110h3M799 111h4M796 112h3M793 113h3M789 114h4M786 115h3M782 116h4M779 117h3M775 118h4M772 119h3M768 120h4M765 121h3M761 122h4M758 123h3M754 124h4M751 125h3M749 126h2M747 127h2M745 128h2M742 129h3M740 130h2M738 131h2M736 132h2M734 133h2M732 134h2M731 135h1M729 136h2M727 137h2M726 138h1M724 139h2M723 140h1M721 141h2M720 142h1M718 143h2M716 144h2M715 145h1M713 146h2M712 147h1M710 148h2M709 149h1M707 150h2M705 151h2M704 152h1M702 153h2M701 154h1M699 155h2M698 156h1M696 157h2M694 158h2M693 159h1M691 160h2M690 161h1M688 162h2M687 163h1M686 164h1M684 165h2M683 166h1M681 167h2M680 168h1M678 169h2M677 170h1M676 171h1M674 172h2M673 173h1M671 174h2M670 175h1M668 176h2M667 177h1M666 178h1M664 179h2M663 180h1M661 181h2M660 182h1M658 183h2M656 184h2M655 185h1M653 186h2M652 187h1M650 188h2M648 189h2M647 190h1M645 191h2M644 192h1M642 193h2M640 194h2M639 195h1M637 196h2M636 197h1M634 198h2M632 199h2M631 200h1M629 201h2M628 202h1M626 203h2M624 204h2M623 205h1M621 206h2M620 207h1M618 208h2M616 209h2M615 210h1M613 211h2M611 212h2M610 213h1M608 214h2M606 215h2M605 216h1M603 217h2M601 218h2M600 219h1M598 220h2M596 221h2M595 222h1M593 223h2M591 224h2M590 225h1M588 226h2M586 227h2M585 228h1M583 229h2M581 230h2M580 231h1M578 232h2M576 233h2M575 234h1M573 235h2M571 236h2M569 237h2M567 238h2M565 239h2M563 240h2M561 241h2M560 242h1M558 243h2M556 244h2M554 245h2M552 246h2M550 247h2M548 248h2M546 249h2M545 250h1M543 251h2M541 252h2M539 253h2M537 254h2M535 255h2M533 256h2M531 257h2M529 258h2M527 259h2M525 260h2M523 261h2M521 262h2M519 263h2M517 264h2M514 265h3M512 266h2M510 267h2M507 268h3M505 269h2M502 270h3M500 271h2M497 272h3M495 273h2M493 274h2M490 275h3M488 276h2M485 277h3M483 278h2M480 279h3M478 280h2M475 281h3M473 282h2M471 283h2M468 284h3M465 285h3M462 286h3M459 287h3M456 288h3M453 289h3M451 290h2M448 291h3M445 292h3M443 293h2M440 294h3M438 295h2M435 296h3M432 297h3M427 298h5M422 299h5M418 300h4M411 301h7M403 302h8M373 303h30M351 304h22M343 305h8M340 306h3M336 307h4M333 308h3M329 309h4M325 310h4M321 311h4M316 312h5M311 313h5M306 314h5M148 315h3M300 315h6M125 316h23M151 316h24M294 316h6M94 317h31M175 317h17M287 317h7M85 318h9M192 318h30M280 318h7M73 319h12M222 319h58M35 320h3M50 320h23M38 321h12"/>
<path shape-rendering="crispEdges" fill="none" stroke="#ff0000" stroke-width="1" transform="translate(0,0.5)" d="M449 469h18M602 469h35M447 470h2M467 470h6M584 470h18M637 470h84M445 471h2M473 471h9M566 471h18M721 471h9M443 472h2M482 472h31M531 472h35M730 472h8M441 473h2M513 473h18M738 473h6M439 474h2M744 474h6M437 475h2M750 475h4M435 476h2M754 476h3M433 477h2M757 477h3M433 478h1M760 478h2M432 479h1M762 479h3M432 480h1M765 480h3M431 481h1M768 481h4M431 482h1M772 482h4M430 483h1M776 483h5M430 484h1M781 484h4M429 485h1M785 485h12M429 486h1M797 486h10M428 487h1M807 487h2M428 488h1M809 488h3M427 489h1M812 489h3M427 490h1M815 490h2M177 491h10M427 491h1M817 491h3M159 492h18M187 492h4M426 492h1M820 492h2M149 493h10M191 493h3M234 493h62M426 493h1M822 493h4M147 494h2M194 494h3M225 494h9M296 494h2M425 494h1M826 494h4M145 495h2M197 495h4M216 495h9M298 495h2M425 495h1M830 495h4M144 496h1M201 496h15M300 496h2M424 496h1M834 496h4M142 497h2M302 497h2M424 497h1M838 497h7M140 498h2M304 498h2M423 498h1M845 498h9M138 499h2M306 499h2M423 499h1M854 499h5M137 500h1M308 500h3M422 500h1M859 500h1M135 501h2M311 501h4M422 501h1M860 501h2M133 502h2M315 502h3M421 502h1M862 502h1M128 503h5M318 503h3M421 503h1M863 503h1M119 504h9M321 504h4M421 504h1M864 504h1M114 505h5M325 505h2M420 505h1M865 505h1M113 506h1M327 506h1M420 506h1M866 506h2M112 507h1M328 507h2M419 507h1M868 507h1M110 508h2M330 508h1M419 508h1M869 508h1M109 509h1M331 509h1M418 509h1M870 509h1M982 509h2M108 510h1M332 510h2M418 510h1M871 510h1M980 510h2M984 510h2M107 511h1M334 511h1M417 511h1M872 511h2M979 511h1M986 511h2M106 512h1M335 512h1M417 512h1M874 512h1M889 512h5M978 512h1M988 512h2M104 513h2M336 513h1M416 513h1M875 513h1M881 513h8M894 513h1M976 513h2M990 513h2M103 514h1M337 514h2M416 514h1M876 514h5M895 514h1M975 514h1M992 514h2M102 515h1M339 515h1M415 515h1M896 515h1M974 515h1M994 515h2M101 516h1M340 516h1M415 516h1M897 516h2M972 516h2M996 516h2M100 517h1M341 517h2M414 517h1M899 517h1M971 517h1M998 517h2M98 518h2M343 518h1M414 518h1M900 518h1M969 518h2M1000 518h1M97 519h1M344 519h1M413 519h1M901 519h1M968 519h1M96 520h1M345 520h1M413 520h1M902 520h1M967 520h1M95 521h1M346 521h1M412 521h1M903 521h1M965 521h2M93 522h2M347 522h1M412 522h1M904 522h1M963 522h2M92 523h1M348 523h1M411 523h1M905 523h1M961 523h2M91 524h1M348 524h1M411 524h1M906 524h2M958 524h3M89 525h2M349 525h1M410 525h1M908 525h1M927 525h5M956 525h2M88 526h1M350 526h1M410 526h1M909 526h1M921 526h6M932 526h4M954 526h2M87 527h1M351 527h1M409 527h1M910 527h1M915 527h6M936 527h5M951 527h3M86 528h1M352 528h1M409 528h1M911 528h4M941 528h4M949 528h2M84 529h2M353 529h1M408 529h1M945 529h4M83 530h1M354 530h1M408 530h1M82 531h1M355 531h1M407 531h1M80 532h2M356 532h1M407 532h1M79 533h1M357 533h1M406 533h1M78 534h1M357 534h1M406 534h1M77 535h1M358 535h1M405 535h1M77 536h1M359 536h1M405 536h1M76 537h1M360 537h1M404 537h1M76 538h1M361 538h1M404 538h1M75 539h1M362 539h1M403 539h1M75 540h1M363 540h1M403 540h1M74 541h1M363 541h1M402 541h1M73 542h1M364 542h1M402 542h1M73 543h1M364 543h1M401 543h1M72 544h1M365 544h1M401 544h1M72 545h1M365 545h1M400 545h1M71 546h1M366 546h1M400 546h1M71 547h1M366 547h1M399 547h1M70 548h1M367 548h1M399 548h1M69 549h1M368 549h1M398 549h1M69 550h1M368 550h1M398 550h1M68 551h1M369 551h1M397 551h1M68 552h1M369 552h1M396 552h1M67 553h1M370 553h1M395 553h1M67 554h1M370 554h1M394 554h1M66 555h1M371 555h1M394 555h1M66 556h1M372 556h1M393 556h1M65 557h1M372 557h1M392 557h1M64 558h1M373 558h1M391 558h1M64 559h1M373 559h1M390 559h1M63 560h1M374 560h1M389 560h1M63 561h1M374 561h1M388 561h1M62 562h1M375 562h1M388 562h1M62 563h1M375 563h1M387 563h1M61 564h1M376 564h1M386 564h1M60 565h1M377 565h1M385 565h1M59 566h1M377 566h1M384 566h1M58 567h1M378 567h1M383 567h1M57 568h1M378 568h1M383 568h1M56 569h1M379 569h1M382 569h1M56 570h1M379 570h1M381 570h1M55 571h1M380 571h1M54 572h1M53 573h1M52 574h1M51 575h1M50 576h1M49 577h1M48 578h1M47 579h1M47 580h1M46 581h1M45 582h1M44 583h1M43 584h1M42 585h1M41 586h1M40 587h1M39 588h1M38 589h1M37 590h1M36 591h1M35 592h1"/>
<path shape-rendering="crispEdges" fill="none" stroke="#000000" stroke-width="1" transform="translate(0,0.5)" d="M623 469h3M629 469h3M635 469h3M641 469h3M647 469h3M653 469h2M485 470h3M491 470h3M605 470h3M611 470h3M617 470h3M655 470h1M659 470h3M665 470h3M671 470h3M677 470h3M683 470h3M689 470h3M695 470h3M701 470h3M707 470h3M713 470h3M719 470h3M725 470h1M473 471h3M479 471h3M497 471h3M503 471h3M509 471h3M569 471h3M575 471h3M581 471h3M587 471h3M593 471h3M599 471h3M726 471h2M731 471h3M737 471h2M468 472h2M515 472h3M521 472h3M527 472h3M533 472h3M539 472h3M545 472h3M551 472h3M557 472h3M563 472h3M739 472h1M743 472h3M467 473h1M749 473h3M755 474h3M761 475h3M463 476h1M767 476h3M462 477h1M773 477h3M461 478h1M779 478h2M781 479h1M785 480h3M457 481h1M791 481h3M456 482h1M797 482h2M455 483h1M799 483h1M803 484h3M809 485h3M451 486h1M815 486h2M450 487h1M817 487h1M449 488h1M821 488h3M827 489h3M833 490h1M834 491h2M184 492h3M447 492h1M839 492h3M174 493h1M178 493h3M190 493h3M196 493h2M250 493h3M256 493h3M262 493h3M268 493h3M274 493h3M280 493h3M286 493h3M292 493h3M446 493h1M845 493h2M172 494h2M198 494h1M202 494h3M208 494h3M214 494h3M220 494h3M226 494h3M232 494h3M238 494h3M244 494h3M298 494h3M304 494h1M446 494h1M847 494h1M851 494h1M166 495h3M305 495h2M310 495h1M852 495h2M162 496h1M311 496h2M857 496h3M160 497h2M316 497h2M155 498h2M318 498h1M443 498h1M863 498h2M154 499h1M322 499h3M443 499h1M865 499h1M149 500h2M442 500h1M869 500h1M148 501h1M328 501h2M870 501h2M330 502h1M144 503h1M875 503h3M142 504h2M334 504h3M440 504h1M439 505h1M881 505h3M138 506h1M340 506h1M438 506h1M137 507h1M341 507h2M887 507h2M136 508h1M889 508h1M346 509h1M893 509h2M132 510h1M347 510h1M436 510h1M895 510h1M130 511h2M348 511h1M435 511h1M435 512h1M899 512h2M901 513h1M125 514h2M352 514h2M124 515h1M354 515h1M905 515h2M432 516h1M907 516h1M120 517h1M432 517h1M996 517h2M119 518h1M358 518h1M431 518h1M911 518h3M991 518h1M995 518h1M118 519h1M359 519h1M917 519h1M985 519h1M989 519h2M360 520h1M918 520h2M983 520h2M114 521h1M923 521h3M977 521h3M113 522h1M429 522h1M929 522h2M112 523h1M364 523h1M428 523h1M931 523h1M971 523h3M364 524h1M428 524h1M935 524h3M966 524h2M365 525h1M941 525h1M960 525h2M965 525h1M942 526h2M953 526h3M959 526h1M108 527h1M947 527h3M107 528h1M426 528h1M106 529h1M369 529h1M425 529h1M369 530h1M425 530h1M370 531h1M103 533h1M102 534h1M422 534h1M101 535h1M373 535h1M422 535h1M374 536h1M421 536h1M375 537h1M97 539h1M96 540h1M419 540h1M95 541h1M378 541h1M418 541h1M379 542h1M418 542h1M380 543h1M92 545h1M384 545h1M91 546h1M385 546h1M416 546h1M90 547h1M386 547h1M414 547h2M390 549h2M408 549h3M392 550h1M87 551h1M402 551h3M86 552h1M396 552h1M85 553h1M397 553h2M81 557h1M81 558h1M80 559h1M76 563h1M76 564h1M75 565h1M72 569h1M71 570h1M70 571h1M67 575h1M66 576h1M66 577h1M63 581h1M62 582h1M61 583h1M56 585h2M55 586h1M51 587h1M37 588h2M49 588h2M39 589h1M45 590h1M43 591h2"/>
<text transform="translate(26.3,11.0) scale(0.845,1)" text-anchor="end" fill="#000">11900</text>
<text transform="translate(1211.6,11.0) scale(0.845,1)" text-anchor="start" fill="#000">11900</text>
<text transform="translate(26.3,22.0) scale(0.845,1)" text-anchor="end" fill="#000">11850</text>
<text transform="translate(1211.6,22.0) scale(0.845,1)" text-anchor="start" fill="#000">11850</text>
<text transform="translate(26.3,34.0) scale(0.845,1)" text-anchor="end" fill="#000">11800</text>
<text transform="translate(1211.6,34.0) scale(0.845,1)" text-anchor="start" fill="#000">11800</text>
<text transform="translate(26.3,46.0) scale(0.845,1)" text-anchor="end" fill="#000">11750</text>
<text transform="translate(1211.6,46.0) scale(0.845,1)" text-anchor="start" fill="#000">11750</text>
<text transform="translate(26.3,58.0) scale(0.845,1)" text-anchor="end" fill="#000">11700</text>
<text transform="translate(1211.6,58.0) scale(0.845,1)" text-anchor="start" fill="#000">11700</text>
<text transform="translate(26.3,70.0) scale(0.845,1)" text-anchor="end" fill="#000">11650</text>
<text transform="translate(1211.6,70.0) scale(0.845,1)" text-anchor="start" fill="#000">11650</text>
<text transform="translate(26.3,82.0) scale(0.845,1)" text-anchor="end" fill="#000">11600</text>
<text transform="translate(1211.6,82.0) scale(0.845,1)" text-anchor="start" fill="#000">11600</text>
<text transform="translate(26.3,94.0) scale(0.845,1)" text-anchor="end" fill="#000">11550</text>
<text transform="translate(1211.6,94.0) scale(0.845,1)" text-anchor="start" fill="#000">11550</text>
<text transform="translate(26.3,106.0) scale(0.845,1)" text-anchor="end" fill="#000">11500</text>
<text transform="translate(1211.6,106.0) scale(0.845,1)" text-anchor="start" fill="#000">11500</text>
<text transform="translate(26.3,117.0) scale(0.845,1)" text-anchor="end" fill="#000">11450</text>
<text transform="translate(1211.6,117.0) scale(0.845,1)" text-anchor="start" fill="#000">11450</text>
<text transform="translate(26.3,130.0) scale(0.845,1)" text-anchor="end" fill="#000">11400</text>
<text transform="translate(1211.6,130.0) scale(0.845,1)" text-anchor="start" fill="#000">11400</text>
<text transform="translate(26.3,141.0) scale(0.845,1)" text-anchor="end" fill="#000">11350</text>
<text transform="translate(1211.6,141.0) scale(0.845,1)" text-anchor="start" fill="#000">11350</text>
<text transform="translate(26.3,153.0) scale(0.845,1)" text-anchor="end" fill="#000">11300</text>
<text transform="translate(1211.6,153.0) scale(0.845,1)" text-anchor="start" fill="#000">11300</text>
<text transform="translate(26.3,166.0) scale(0.845,1)" text-anchor="end" fill="#000">11250</text>
<text transform="translate(1211.6,166.0) scale(0.845,1)" text-anchor="start" fill="#000">11250</text>
<text transform="translate(26.3,177.0) scale(0.845,1)" text-anchor="end" fill="#000">11200</text>
<text transform="translate(1211.6,177.0) scale(0.845,1)" text-anchor="start" fill="#000">11200</text>
<text transform="translate(26.3,189.0) scale(0.845,1)" text-anchor="end" fill="#000">11150</text>
<text transform="translate(1211.6,189.0) scale(0.845,1)" text-anchor="start" fill="#000">11150</text>
<text transform="translate(26.3,201.0) scale(0.845,1)" text-anchor="end" fill="#000">11100</text>
<text transform="translate(1211.6,201.0) scale(0.845,1)" text-anchor="start" fill="#000">11100</text>
<text transform="translate(26.3,213.0) scale(0.845,1)" text-anchor="end" fill="#000">11050</text>
<text transform="translate(1211.6,213.0) scale(0.845,1)" text-anchor="start" fill="#000">11050</text>
<text transform="translate(26.3,225.0) scale(0.845,1)" text-anchor="end" fill="#000">11000</text>
<text transform="translate(1211.6,225.0) scale(0.845,1)" text-anchor="start" fill="#000">11000</text>
<text transform="translate(26.3,237.0) scale(0.845,1)" text-anchor="end" fill="#000">10950</text>
<text transform="translate(1211.6,237.0) scale(0.845,1)" text-anchor="start" fill="#000">10950</text>
<text transform="translate(26.3,249.0) scale(0.845,1)" text-anchor="end" fill="#000">10900</text>
<text transform="translate(1211.6,249.0) scale(0.845,1)" text-anchor="start" fill="#000">10900</text>
<text transform="translate(26.3,260.0) scale(0.845,1)" text-anchor="end" fill="#000">10850</text>
<text transform="translate(1211.6,260.0) scale(0.845,1)" text-anchor="start" fill="#000">10850</text>
<text transform="translate(26.3,273.0) scale(0.845,1)" text-anchor="end" fill="#000">10800</text>
<text transform="translate(1211.6,273.0) scale(0.845,1)" text-anchor="start" fill="#000">10800</text>
<text transform="translate(26.3,285.0) scale(0.845,1)" text-anchor="end" fill="#000">10750</text>
<text transform="translate(1211.6,285.0) scale(0.845,1)" text-anchor="start" fill="#000">10750</text>
<text transform="translate(26.3,296.0) scale(0.845,1)" text-anchor="end" fill="#000">10700</text>
<text transform="translate(1211.6,296.0) scale(0.845,1)" text-anchor="start" fill="#000">10700</text>
<text transform="translate(26.3,308.0) scale(0.845,1)" text-anchor="end" fill="#000">10650</text>
<text transform="translate(1211.6,308.0) scale(0.845,1)" text-anchor="start" fill="#000">10650</text>
<text transform="translate(26.3,321.0) scale(0.845,1)" text-anchor="end" fill="#000">10600</text>
<text transform="translate(1211.6,321.0) scale(0.845,1)" text-anchor="start" fill="#000">10600</text>
<text transform="translate(26.3,332.0) scale(0.845,1)" text-anchor="end" fill="#000">10550</text>
<text transform="translate(1211.6,332.0) scale(0.845,1)" text-anchor="start" fill="#000">10550</text>
<text transform="translate(26.3,344.0) scale(0.845,1)" text-anchor="end" fill="#000">10500</text>
<text transform="translate(1211.6,344.0) scale(0.845,1)" text-anchor="start" fill="#000">10500</text>
<text transform="translate(26.3,356.0) scale(0.845,1)" text-anchor="end" fill="#000">10450</text>
<text transform="translate(1211.6,356.0) scale(0.845,1)" text-anchor="start" fill="#000">10450</text>
<text transform="translate(26.3,368.0) scale(0.845,1)" text-anchor="end" fill="#000">10400</text>
<text transform="translate(1211.6,368.0) scale(0.845,1)" text-anchor="start" fill="#000">10400</text>
<text transform="translate(26.3,380.0) scale(0.845,1)" text-anchor="end" fill="#000">10350</text>
<text transform="translate(1211.6,380.0) scale(0.845,1)" text-anchor="start" fill="#000">10350</text>
<text transform="translate(26.3,392.0) scale(0.845,1)" text-anchor="end" fill="#000">10300</text>
<text transform="translate(1211.6,392.0) scale(0.845,1)" text-anchor="start" fill="#000">10300</text>
<text transform="translate(26.3,404.0) scale(0.845,1)" text-anchor="end" fill="#000">10250</text>
<text transform="translate(1211.6,404.0) scale(0.845,1)" text-anchor="start" fill="#000">10250</text>
<text transform="translate(26.3,415.0) scale(0.845,1)" text-anchor="end" fill="#000">10200</text>
<text transform="translate(1211.6,415.0) scale(0.845,1)" text-anchor="start" fill="#000">10200</text>
<text transform="translate(26.3,428.0) scale(0.845,1)" text-anchor="end" fill="#000">10150</text>
<text transform="translate(1211.6,428.0) scale(0.845,1)" text-anchor="start" fill="#000">10150</text>
<text transform="translate(26.3,440.0) scale(0.845,1)" text-anchor="end" fill="#000">10100</text>
<text transform="translate(1211.6,440.0) scale(0.845,1)" text-anchor="start" fill="#000">10100</text>
<text transform="translate(26.3,451.0) scale(0.845,1)" text-anchor="end" fill="#000">10050</text>
<text transform="translate(1211.6,451.0) scale(0.845,1)" text-anchor="start" fill="#000">10050</text>
<text transform="translate(26.3,471.0) scale(0.845,1)" text-anchor="end" fill="#000">100</text>
<text transform="translate(26.3,485.0) scale(0.845,1)" text-anchor="end" fill="#000">90</text>
<text transform="translate(26.3,499.0) scale(0.845,1)" text-anchor="end" fill="#000">80</text>
<text transform="translate(26.3,514.0) scale(0.845,1)" text-anchor="end" fill="#000">70</text>
<text transform="translate(26.3,528.0) scale(0.845,1)" text-anchor="end" fill="#000">60</text>
<text transform="translate(26.3,541.0) scale(0.845,1)" text-anchor="end" fill="#000">50</text>
<text transform="translate(26.3,556.0) scale(0.845,1)" text-anchor="end" fill="#000">40</text>
<text transform="translate(26.3,570.0) scale(0.845,1)" text-anchor="end" fill="#000">30</text>
<text transform="translate(26.3,584.0) scale(0.845,1)" text-anchor="end" fill="#000">20</text>
<text transform="translate(26.3,598.0) scale(0.845,1)" text-anchor="end" fill="#000">10</text>
<text transform="translate(1236.0,475.0) scale(0.850,1)" text-anchor="end" fill="#000">1.5</text>
<text transform="translate(1236.0,497.0) scale(0.850,1)" text-anchor="end" fill="#000">1.0</text>
<text transform="translate(1236.0,519.0) scale(0.850,1)" text-anchor="end" fill="#000">0.5</text>
<text transform="translate(1236.0,541.0) scale(0.850,1)" text-anchor="end" fill="#000">0.0</text>
<text transform="translate(1236.0,563.0) scale(0.850,1)" text-anchor="end" fill="#000">-0.5</text>
<text transform="translate(1236.0,585.0) scale(0.850,1)" text-anchor="end" fill="#000">-1.0</text>
<text transform="translate(44.7,613.0) scale(0.850,1)" text-anchor="start" fill="#000">7</text>
<text transform="translate(133.7,613.0) scale(0.850,1)" text-anchor="start" fill="#000">14</text>
<text transform="translate(222.7,613.0) scale(0.850,1)" text-anchor="start" fill="#000">21</text>
<text transform="translate(310.0,613.0) scale(0.850,1)" text-anchor="start" fill="#000">28</text>
<text transform="translate(398.0,613.0) scale(0.850,1)" text-anchor="start" fill="#000">5</text>
<text transform="translate(487.0,613.0) scale(0.850,1)" text-anchor="start" fill="#000">12</text>
<text transform="translate(576.0,613.0) scale(0.850,1)" text-anchor="start" fill="#000">19</text>
<text transform="translate(664.0,613.0) scale(0.850,1)" text-anchor="start" fill="#000">27</text>
<text transform="translate(735.0,613.0) scale(0.850,1)" text-anchor="start" fill="#000">2</text>
<text transform="translate(824.0,613.0) scale(0.850,1)" text-anchor="start" fill="#000">9</text>
<text transform="translate(912.0,613.0) scale(0.850,1)" text-anchor="start" fill="#000">16</text>
<text transform="translate(1001.0,613.0) scale(0.850,1)" text-anchor="start" fill="#000">23</text>
<text transform="translate(1089.0,613.0) scale(0.850,1)" text-anchor="start" fill="#000">30</text>
<text transform="translate(1178.0,613.0) scale(0.850,1)" text-anchor="start" fill="#000">6</text>
<text transform="translate(363.6,625.0) scale(0.850,1)" text-anchor="start" fill="#000">December</text>
<text transform="translate(734.9,625.0) scale(0.850,1)" text-anchor="start" fill="#000">2017</text>
<text x="1124.9" y="625.0" text-anchor="start" fill="#000" textLength="31.8" lengthAdjust="spacingAndGlyphs">February</text>
<text transform="translate(491.8,10.6) scale(0.850,1)" text-anchor="start" fill="#000">I</text>
<text x="495.2" y="10.6" text-anchor="start" fill="#000" textLength="42.6" lengthAdjust="spacingAndGlyphs">DAXXETRA</text>
<text x="540.3" y="10.6" text-anchor="start" fill="#000" textLength="205.9" lengthAdjust="spacingAndGlyphs">(11,545.97, 11,605.29, 11,508.83, 11,545.75, -84.3799)</text>
<text x="58.4" y="437.0" text-anchor="start" fill="#0000ff" textLength="57.9" lengthAdjust="spacingAndGlyphs">10174 (9/11/16)</text>
<text x="360.3" y="388.0" text-anchor="start" fill="#0000ff" textLength="58.8" lengthAdjust="spacingAndGlyphs">10402 (2/12/16)</text>
<text x="777.0" y="350.0" text-anchor="start" fill="#0000ff" textLength="65.4" lengthAdjust="spacingAndGlyphs">CICLO PRIMARIO</text>
<text x="845.1" y="350.0" text-anchor="start" fill="#0000ff" textLength="84.0" lengthAdjust="spacingAndGlyphs">desde 9 de noviembre</text>
<text x="839.1" y="36.0" text-anchor="start" fill="#0000ff" textLength="23.2" lengthAdjust="spacingAndGlyphs">11692</text>
<text x="914.0" y="159.0" text-anchor="start" fill="#0000ff" textLength="32.2" lengthAdjust="spacingAndGlyphs">17/01/17</text>
</svg>
</body></html>
